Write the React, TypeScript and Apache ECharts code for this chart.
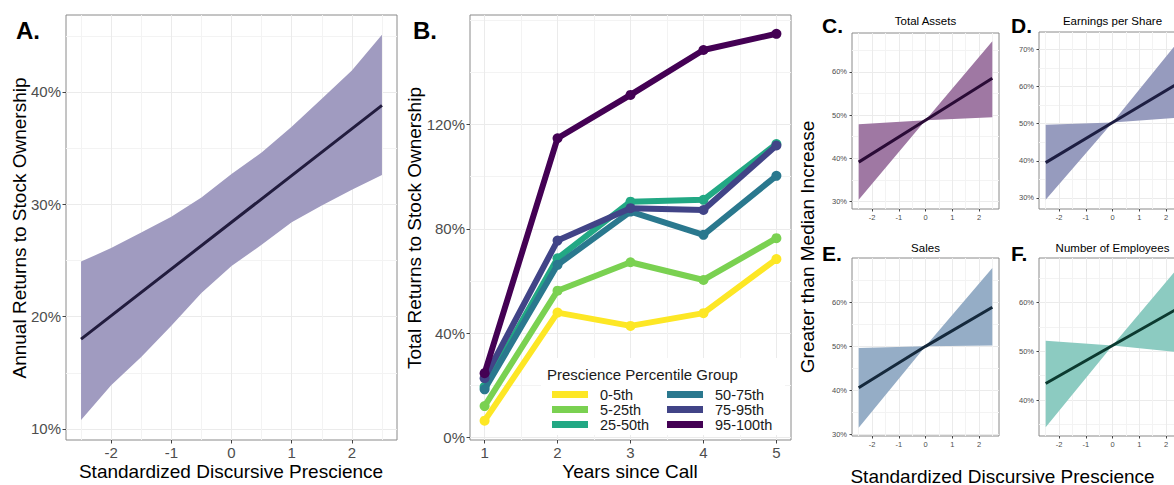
import React, { useEffect, useRef } from 'react';
import * as echarts from 'echarts';

const FONT = '"Liberation Sans", Arial, Helvetica, sans-serif';

// ---------- Panel A data ----------
const A_X = [-2.5, -2, -1.5, -1, -0.5, 0, 0.5, 1, 1.5, 2, 2.5];
const A_UPPER = [24.9, 26.1, 27.5, 28.9, 30.6, 32.7, 34.6, 36.9, 39.4, 41.9, 45.1];
const A_LOWER = [10.8, 13.9, 16.4, 19.2, 22.1, 24.5, 26.4, 28.4, 29.9, 31.3, 32.6];
const A_FIT_X = [-2.5, 0, 2.5];
const A_FIT = [18.0, 28.4, 38.8];

// ---------- Panel B data ----------
const YEARS = [1, 2, 3, 4, 5];
const GROUP_NAMES = ['0-5th', '5-25th', '25-50th', '50-75th', '75-95th', '95-100th'];
const G_0_5 = [6.5, 47.9, 42.8, 47.7, 68.4];
const G_5_25 = [12.1, 56.3, 67.2, 60.4, 76.4];
const G_25_50 = [19.5, 68.7, 90.4, 91.1, 112.5];
const G_50_75 = [18.5, 66.2, 86.6, 77.7, 100.3];
const G_75_95 = [22.8, 75.5, 87.9, 87.2, 111.9];
const G_95_100 = [24.7, 114.7, 131.3, 148.5, 154.7];
const GROUP_VALUES = [G_0_5, G_5_25, G_25_50, G_50_75, G_75_95, G_95_100];
const GROUP_COLORS = ['#FDE725', '#7AD151', '#22A884', '#2A788E', '#414487', '#440154'];

// ---------- Panels C-F data ----------
const SUB_X = [-2.5, 0, 2.5];
const C_UPPER = [47.9, 48.8, 67.1];
const C_LOWER = [30.4, 48.8, 49.5];
const C_FIT = [39.1, 48.8, 58.5];
const D_UPPER = [49.7, 50.3, 72.5];
const D_LOWER = [29.5, 50.3, 51.6];
const D_FIT = [39.5, 50.3, 61.1];
const E_UPPER = [49.6, 50.0, 67.8];
const E_LOWER = [31.5, 50.0, 50.2];
const E_FIT = [40.6, 50.0, 58.9];
const F_UPPER = [52.2, 51.2, 67.5];
const F_LOWER = [34.4, 51.2, 49.8];
const F_FIT = [43.4, 51.2, 59.0];

// ---------- tick values ----------
const SD_MAJOR = [-2, -1, 0, 1, 2];
const SD_MINOR = [-2.5, -1.5, -0.5, 0.5, 1.5, 2.5];
const A_Y_MAJOR = [10, 20, 30, 40];
const A_Y_MINOR = [15, 25, 35, 45];
const B_X_MAJOR = [1, 2, 3, 4, 5];
const B_X_MINOR = [1.5, 2.5, 3.5, 4.5];
const B_Y_MAJOR = [0, 40, 80, 120];
const B_Y_MINOR = [20, 60, 100, 140, 160];
const C_Y_MAJOR = [30, 40, 50, 60];
const D_Y_MAJOR = [30, 40, 50, 60, 70];
const E_Y_MAJOR = [30, 40, 50, 60];
const F_Y_MAJOR = [40, 50, 60];
const SUB_Y_MINOR = [35, 45, 55, 65];

const pct = (v: number) => `${v}%`;

function ribbon(xs: number[], lo: number[], hi: number[], color: string) {
  return (params: any, api: any) => {
    if (params.dataIndex !== 0) return null;
    const top = xs.map((x, i) => api.coord([x, hi[i]]));
    const bot = xs.map((x, i) => api.coord([x, lo[i]])).reverse();
    return {
      type: 'polygon',
      shape: { points: top.concat(bot) },
      style: { fill: color },
      silent: true,
    };
  };
}

function buildOption() {
  const panels = [
    { grid: { left: 66, top: 15, width: 331, height: 425 }, x: [-2.75, 2.75], y: [9.02, 46.85], xMaj: SD_MAJOR, xMin: SD_MINOR, yMaj: A_Y_MAJOR, yMin: A_Y_MINOR, big: true },
    { grid: { left: 470, top: 15, width: 321, height: 425 }, x: [0.8, 5.2], y: [-0.9, 161.9], xMaj: B_X_MAJOR, xMin: B_X_MINOR, yMaj: B_Y_MAJOR, yMin: B_Y_MINOR, big: true },
    { grid: { left: 852, top: 33, width: 147, height: 176 }, x: [-2.75, 2.75], y: [28.25, 69.0], xMaj: SD_MAJOR, xMin: SD_MINOR, yMaj: C_Y_MAJOR, yMin: SUB_Y_MINOR, big: false },
    { grid: { left: 1039, top: 32, width: 147, height: 177 }, x: [-2.75, 2.75], y: [27.0, 74.7], xMaj: SD_MAJOR, xMin: SD_MINOR, yMaj: D_Y_MAJOR, yMin: SUB_Y_MINOR, big: false },
    { grid: { left: 852, top: 258, width: 147, height: 178 }, x: [-2.75, 2.75], y: [29.6, 70.1], xMaj: SD_MAJOR, xMin: SD_MINOR, yMaj: E_Y_MAJOR, yMin: SUB_Y_MINOR, big: false },
    { grid: { left: 1039, top: 258, width: 147, height: 178 }, x: [-2.75, 2.75], y: [32.6, 69.2], xMaj: SD_MAJOR, xMin: SD_MINOR, yMaj: F_Y_MAJOR, yMin: SUB_Y_MINOR, big: false },
  ];

  const grids: any[] = [];
  const xAxes: any[] = [];
  const yAxes: any[] = [];

  panels.forEach((p, i) => {
    grids.push({
      ...p.grid,
      show: true,
      borderColor: '#8a8a8a',
      borderWidth: 1,
      backgroundColor: 'transparent',
      containLabel: false,
      outerBoundsMode: 'none',
    });
    const fs = p.big ? 15 : 7.5;
    const tickLen = p.big ? 3.5 : 2.5;
    xAxes.push({
      gridIndex: i, type: 'value', min: p.x[0], max: p.x[1], position: 'bottom',
      axisLine: { show: false, onZero: false },
      axisTick: { show: true, length: tickLen, customValues: p.xMaj, lineStyle: { color: '#444', width: 1 } },
      axisLabel: { customValues: p.xMaj, fontSize: fs, color: '#4d4d4d', fontFamily: FONT, margin: p.big ? 5 : 4 },
      splitLine: { show: true, lineStyle: { color: '#ebebeb', width: 1 } },
    });
    xAxes.push({
      gridIndex: i, type: 'value', min: p.x[0], max: p.x[1], position: 'bottom',
      axisLine: { show: false, onZero: false },
      axisTick: { show: false, customValues: p.xMin },
      axisLabel: { show: false },
      splitLine: { show: true, lineStyle: { color: '#f3f3f3', width: 1 } },
    });
    yAxes.push({
      gridIndex: i, type: 'value', min: p.y[0], max: p.y[1], position: 'left',
      axisLine: { show: false, onZero: false },
      axisTick: { show: true, length: tickLen, customValues: p.yMaj, lineStyle: { color: '#444', width: 1 } },
      axisLabel: { customValues: p.yMaj, fontSize: fs, color: '#4d4d4d', fontFamily: FONT, margin: 5, formatter: pct },
      splitLine: { show: true, lineStyle: { color: '#ebebeb', width: 1 } },
    });
    yAxes.push({
      gridIndex: i, type: 'value', min: p.y[0], max: p.y[1], position: 'left',
      axisLine: { show: false, onZero: false },
      axisTick: { show: false, customValues: p.yMin },
      axisLabel: { show: false },
      splitLine: { show: true, lineStyle: { color: '#f3f3f3', width: 1 } },
    });
  });

  const series: any[] = [];

  const addRibbonPanel = (pi: number, xs: number[], lo: number[], hi: number[], fitX: number[], fit: number[], fill: string, line: string, lw: number) => {
    series.push({
      type: 'custom',
      xAxisIndex: pi * 2,
      yAxisIndex: pi * 2,
      renderItem: ribbon(xs, lo, hi, fill),
      data: xs.map((x, i) => [x, lo[i], hi[i]]),
      encode: { x: 0, y: [1, 2] },
      silent: true,
      z: 2,
    });
    series.push({
      type: 'line',
      xAxisIndex: pi * 2,
      yAxisIndex: pi * 2,
      data: fitX.map((x, i) => [x, fit[i]]),
      symbol: 'none',
      showSymbol: false,
      lineStyle: { color: line, width: lw },
      silent: true,
      z: 3,
    });
  };

  addRibbonPanel(0, A_X, A_LOWER, A_UPPER, A_FIT_X, A_FIT, '#a09bc0', '#221c3e', 3);

  GROUP_NAMES.forEach((name, gi) => {
    series.push({
      type: 'line',
      name,
      xAxisIndex: 2,
      yAxisIndex: 2,
      data: YEARS.map((y, i) => [y, GROUP_VALUES[gi][i]]),
      symbol: 'circle',
      symbolSize: 10,
      showSymbol: true,
      lineStyle: { color: GROUP_COLORS[gi], width: 6 },
      itemStyle: { color: GROUP_COLORS[gi] },
      silent: true,
      z: 3 + gi * 0.01,
    });
  });

  addRibbonPanel(2, SUB_X, C_LOWER, C_UPPER, SUB_X, C_FIT, '#9f78a3', '#2a0b36', 3);
  addRibbonPanel(3, SUB_X, D_LOWER, D_UPPER, SUB_X, D_FIT, '#969bbe', '#1d1e42', 3);
  addRibbonPanel(4, SUB_X, E_LOWER, E_UPPER, SUB_X, E_FIT, '#95adc6', '#15293c', 3);
  addRibbonPanel(5, SUB_X, F_LOWER, F_UPPER, SUB_X, F_FIT, '#8ccbc1', '#0c3a30', 3);

  const legendBase = {
    orient: 'vertical',
    top: 387,
    itemWidth: 36,
    itemHeight: 7,
    itemGap: 0,
    padding: 0,
    icon: 'rect',
    selectedMode: false,
    textStyle: { fontSize: 14.5, lineHeight: 14, color: '#1a1a1a', fontFamily: FONT, padding: [0, 0, 0, 7] },
  };

  const txt = (text: string, x: number, y: number, size: number, opts: any = {}) => ({
    type: 'text',
    x,
    y,
    rotation: opts.rotation || 0,
    z: 10,
    silent: true,
    style: {
      text,
      fontSize: size,
      fontFamily: FONT,
      fontWeight: opts.bold ? 'bold' : 'normal',
      fill: opts.fill || '#000',
      textAlign: opts.align || 'center',
      textVerticalAlign: 'middle',
    },
  });

  const graphic = [
    { type: 'rect', z: 1, silent: true, shape: { x: 541, y: 358, width: 244, height: 77 }, style: { fill: '#ffffff' } },
    txt('A.', 16, 30, 24, { bold: true, align: 'left' }),
    txt('B.', 413, 30, 24, { bold: true, align: 'left' }),
    txt('C.', 822, 25, 21, { bold: true, align: 'left' }),
    txt('D.', 1011, 25, 21, { bold: true, align: 'left' }),
    txt('E.', 822, 253, 21, { bold: true, align: 'left' }),
    txt('F.', 1011, 253, 21, { bold: true, align: 'left' }),
    txt('Total Assets', 925.5, 21, 11.5),
    txt('Earnings per Share', 1112.5, 21, 11.5),
    txt('Sales', 925.5, 248, 11.5),
    txt('Number of Employees', 1112.5, 248, 11.5),
    txt('Annual Returns to Stock Ownership', 19, 228, 19, { rotation: Math.PI / 2 }),
    txt('Standardized Discursive Prescience', 231, 471, 19),
    txt('Total Returns to Stock Ownership', 414, 228, 19, { rotation: Math.PI / 2 }),
    txt('Years since Call', 630, 471, 19),
    txt('Greater than Median Increase', 807.5, 247, 19, { rotation: Math.PI / 2 }),
    txt('Standardized Discursive Prescience', 1002.5, 476, 19),
    txt('Prescience Percentile Group', 547, 374, 15, { align: 'left', fill: '#1a1a1a' }),
  ];

  return {
    animation: false,
    backgroundColor: '#ffffff',
    textStyle: { fontFamily: FONT },
    grid: grids,
    xAxis: xAxes,
    yAxis: yAxes,
    legend: [
      { ...legendBase, left: 552, data: GROUP_NAMES.slice(0, 3) },
      { ...legendBase, left: 667, data: GROUP_NAMES.slice(3, 6) },
    ],
    graphic,
    series,
  };
}

export default function App() {
  const ref = useRef<HTMLDivElement>(null);
  useEffect(() => {
    document.body.style.margin = '0';
    const chart = echarts.init(ref.current as HTMLDivElement, null, { renderer: 'svg' });
    chart.setOption(buildOption() as any);
    return () => chart.dispose();
  }, []);
  return <div ref={ref} style={{ width: 1174, height: 485 }} />;
}
